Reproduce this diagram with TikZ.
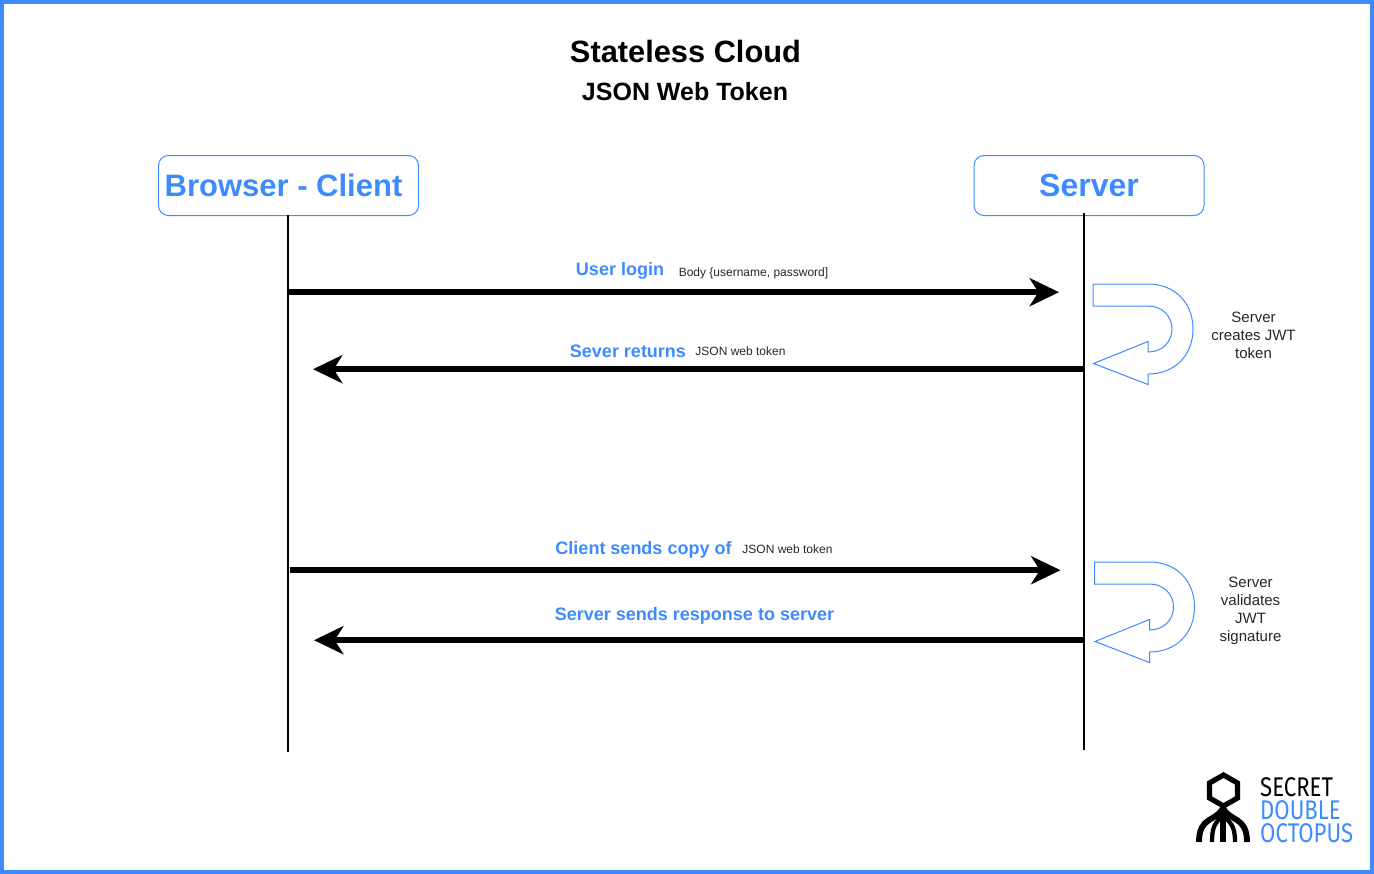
\documentclass[tikz,border=0pt]{standalone}
\usepackage{fontspec}
\setmainfont{Liberation Sans}
\newfontfamily\logofont{Fira Sans}
\usetikzlibrary{arrows.meta}
\definecolor{sdblue}{HTML}{3D8BFF}
\newcommand{\pxf}[2]{\fontsize{\dimexpr#1pt*3/4\relax}{\dimexpr#2pt*3/4\relax}\selectfont}
\tikzset{
  x=0.75pt,y=-0.75pt,
  actor/.style={draw=sdblue,line width=0.75pt,rounded corners=7.5pt,minimum height=45pt,inner sep=0pt,font=\pxf{32}{36}\bfseries,text=sdblue},
  actortext/.style={inner sep=0pt,text=sdblue},
  lifeline/.style={line width=1.5pt,black},
  msg/.style={line width=4.5pt,black,-{Stealth[length=22pt,width=21pt,inset=6.5pt]}},
  msglabel/.style={inner sep=0pt,font=\pxf{18}{22}\bfseries,text=sdblue},
  smalllabel/.style={inner sep=0pt,font=\pxf{12}{14},text=black!85},
  note/.style={inner sep=0pt,align=center,font=\pxf{15}{18},text=black!85},
  uturn/.style={draw=sdblue,line width=0.75pt,fill=white,line join=miter},
  logotext/.style={inner sep=0pt,anchor=west,align=left,font=\logofont\pxf{27}{23}},
  logoline/.style={line width=3.9pt,black}
}
\begin{document}
\begin{tikzpicture}
\useasboundingbox (0,0) rectangle (1374,874);
\draw[sdblue,line width=3pt] (2,2) rectangle (1372,872);
\node[inner sep=0pt,font=\pxf{30.8}{34}\bfseries] (title) at (685.5,51.5) {Stateless Cloud};
\node[inner sep=0pt,font=\pxf{25}{30}\bfseries] (subtitle) at (685,91.5) {JSON Web Token};
\node[actor,minimum width=195pt] (client) at (288.5,185.5) {};
\node[actortext,font=\pxf{31}{36}\bfseries] (clientlabel) at (283.5,185.5) {Browser - Client};
\node[actor,minimum width=172.5pt] (server) at (1089,185.5) {};
\node[actortext,font=\pxf{32}{36}\bfseries] (serverlabel) at (1089,185.5) {Server};
% lifelines
\coordinate (clienttop) at (288,215);
\coordinate (clientend) at (288,752);
\coordinate (servertop) at (1083.5,213);
\coordinate (serverend) at (1083.5,750);
\draw[lifeline] (clienttop) -- (clientend);
\draw[lifeline] (servertop) -- (serverend);
% messages
\coordinate (a1) at (288.5,292.2); \coordinate (b1) at (1059,292.2);
\coordinate (a2) at (1083.5,369.2); \coordinate (b2) at (313,369.2);
\coordinate (a3) at (290,570.2); \coordinate (b3) at (1060.5,570.2);
\coordinate (a4) at (1083.5,640.2); \coordinate (b4) at (314,640.2);
\draw[msg] (a1) -- (b1);
\draw[msg] (a2) -- (b2);
\draw[msg] (a3) -- (b3);
\draw[msg] (a4) -- (b4);
% labels
\node[msglabel] (l1) at (620,271) {User login};
\node[smalllabel] (s1) at (753.5,273) {Body \{username, password]};
\node[msglabel] (l2) at (628,351.5) {Sever returns};
\node[smalllabel] (s2) at (740.5,351) {JSON web token};
\node[msglabel] (l3) at (643.5,549.5) {Client sends copy of};
\node[smalllabel] (s3) at (787.5,549) {JSON web token};
\node[msglabel] (l4) at (694.5,615.5) {Server sends response to server};
% u-turn arrows
\path[uturn] (1093,284) -- (1148,284) .. controls (1175,284) and (1193,303) .. (1193,329)
  .. controls (1193,355) and (1175,374) .. (1148,374) -- (1148,384.5) -- (1093.5,363.5) -- (1148,341.5) -- (1148,352)
  .. controls (1162,352) and (1172,342) .. (1172,329) .. controls (1172,316) and (1162,306) .. (1148,306) -- (1093,306) -- cycle;
\begin{scope}[shift={(1.5,278)}]
\path[uturn] (1093,284) -- (1148,284) .. controls (1175,284) and (1193,303) .. (1193,329)
  .. controls (1193,355) and (1175,374) .. (1148,374) -- (1148,384.5) -- (1093.5,363.5) -- (1148,341.5) -- (1148,352)
  .. controls (1162,352) and (1172,342) .. (1172,329) .. controls (1172,316) and (1162,306) .. (1148,306) -- (1093,306) -- cycle;
\end{scope}
\node[note] (n1) at (1253.5,335.5) {Server\\creates JWT\\token};
\node[note] (n2) at (1250.5,610.5) {Server\\validates\\JWT\\signature};
% logo
\draw[logoline,line join=miter] (1223.5,775) -- (1237.5,783) -- (1237.5,798) -- (1223.5,806) -- (1209.5,798) -- (1209.5,783) -- cycle;
\draw[logoline] (1223,806) -- (1223,842);
\draw[line width=4.4pt] (1223,808) .. controls (1216,822) and (1199,816) .. (1199,842);
\draw[line width=4.4pt] (1223,808) .. controls (1230,822) and (1247,816) .. (1247,842);
\draw[line width=3.2pt] (1223,814) .. controls (1216,824) and (1212,824) .. (1212,842);
\draw[line width=3.2pt] (1223,814) .. controls (1230,824) and (1235,824) .. (1235,842);
\node[logotext,xscale=0.82] (logo) at (1260,810) {\textcolor{black}{SECRET}\\\textcolor{sdblue}{DOUBLE}\\\textcolor{sdblue}{OCTOPUS}};
\end{tikzpicture}
\end{document}
